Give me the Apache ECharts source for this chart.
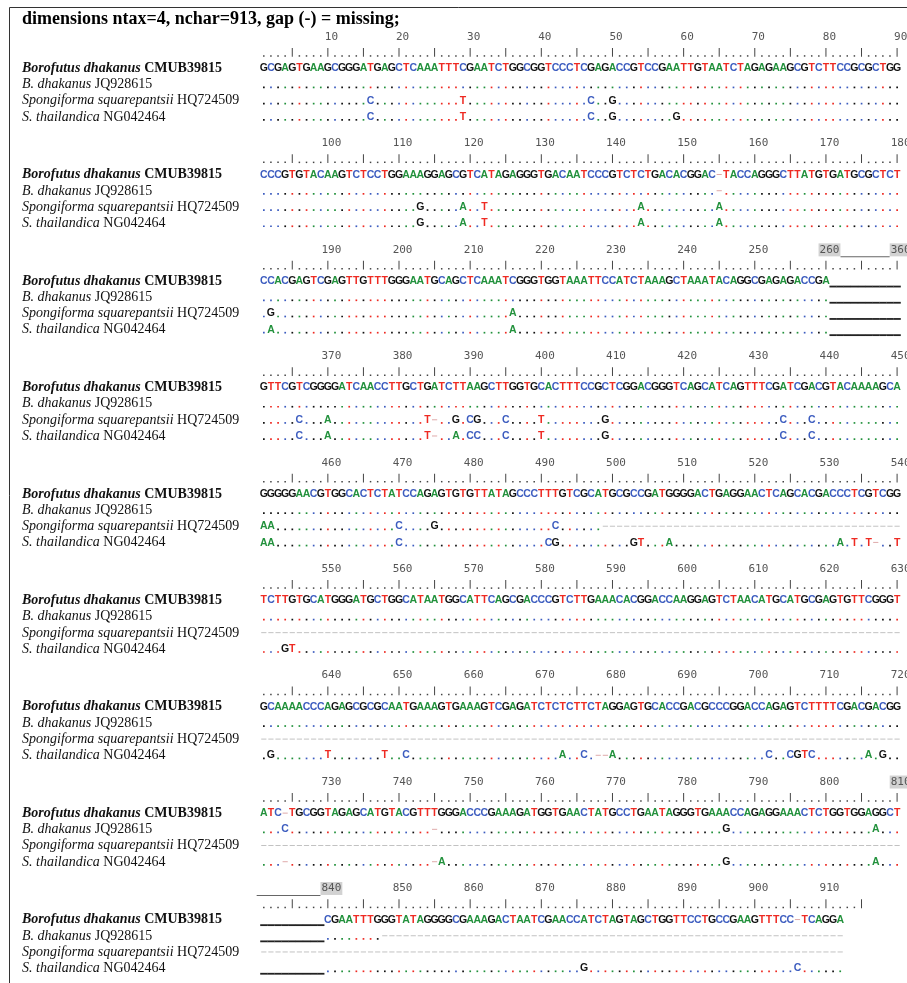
<!DOCTYPE html>
<html>
<head>
<meta charset="utf-8">
<script src="https://cdn.jsdelivr.net/npm/echarts@6/dist/echarts.min.js"></script>
</head>
<body style="margin:0; background:#fff">
<div id="container" style="width:907px; height:983px"></div>
<script>
var taxonGenus = ['Borofutus dhakanus', 'B. dhakanus', 'Spongiforma squarepantsii', 'S. thailandica'];
var taxonCode = ['CMUB39815', 'JQ928615', 'HQ724509', 'NG042464'];

// ruler labels, one every 10 columns (col 10, 20, ...)
var rulerLabels = [
  ['10', '20', '30', '40', '50', '60', '70', '80', '90'],
  ['100', '110', '120', '130', '140', '150', '160', '170', '180'],
  ['190', '200', '210', '220', '230', '240', '250', '260', '360'],
  ['370', '380', '390', '400', '410', '420', '430', '440', '450'],
  ['460', '470', '480', '490', '500', '510', '520', '530', '540'],
  ['550', '560', '570', '580', '590', '600', '610', '620', '630'],
  ['640', '650', '660', '670', '680', '690', '700', '710', '720'],
  ['730', '740', '750', '760', '770', '780', '790', '800', '810'],
  ['840', '850', '860', '870', '880', '890', '900', '910']
];
var highlighted = ['260', '360', '810', '840'];
var rulerLength = [90, 90, 90, 90, 90, 90, 90, 90, 85];
// [block, from col, to col] : skipped stretch drawn as a line in the ruler
var rulerBreaks = [[2, 80, 90], [8, 0, 10]];

// '.' same as first row, '-' gap / missing, '=' skipped stretch
var seqRef = [
  'GCGAGTGAAG CGGGATGAGC TCAAATTTCG AATCTGGCGG TCCCTCGAGA CCGTCCGAAT TGTAATCTAG AGAAGCGTCT TCCGCGCTGG',
  'CCCGTGTACA AGTCTCCTGG AAAGGAGCGT CATAGAGGGT GACAATCCCG TCTCTGACAC GGAC-TACCA GGGCTTATGT GATGCGCTCT',
  'CCACGAGTCG AGTTGTTTGG GAATGCAGCT CAAATCGGGT GGTAAATTCC ATCTAAAGCT AAATACAGGC GAGAGACCGA ==========',
  'GTTCGTCGGG GATCAACCTT GCTGATCTTA AGCTTGGTGC ACTTTCCGCT CGGACGGGTC AGCATCAGTT TCGATCGACG TACAAAAGCA',
  'GGGGGAACGT GGCACTCTAT CCAGAGTGTG TTATAGCCCT TTGTCGCATG CGCCGATGGG GACTGAGGAA CTCAGCACGA CCCTCGTCGG',
  'TCTTGTGCAT GGGATGCTGG CATAATGGCA TTCAGCGACC CGTCTTGAAA CACGGACCAA GGAGTCTAAC ATGCATGCGA GTGTTCGGGT',
  'GCAAAACCCA GAGCGCGCAA TGAAAGTGAA AGTCGAGATC TCTCTTCTAG GAGTGCACCG ACGCCCGGAC CAGAGTCTTT TCGACGACGG',
  'ATC-TGCGGT AGAGCATGTA CGTTTGGGAC CCGAAAGATG GTGAACTATG CCTGAATAGG GTGAAACCAG AGGAAACTCT GGTGGAGGCT',
  '=========C GAATTTGGGT ATAGGGGCGA AAGACTAATC GAACCATCTA GTAGCTGGTT CCTGCCGAAG TTTCC-TCAG GA'
];
var seqJQ = [
  '.......... .......... .......... .......... .......... .......... .......... .......... ..........',
  '.......... .......... .......... .......... .......... .......... ....-..... .......... ..........',
  '.......... .......... .......... .......... .......... .......... .......... .......... ==========',
  '.......... .......... .......... .......... .......... .......... .......... .......... ..........',
  '.......... .......... .......... .......... .......... .......... .......... .......... ..........',
  '.......... .......... .......... .......... .......... .......... .......... .......... ..........',
  '.......... .......... .......... .......... .......... .......... .......... .......... ..........',
  '...C...... .......... ....-..... .......... .......... .......... .....G.... .......... ......A...',
  '=========. .......--- ---------- ---------- ---------- ---------- ---------- ---------- --'
];
var seqHQ = [
  '.......... .....C.... ........T. .......... ......C..G .......... .......... .......... ..........',
  '.......... .......... ..G.....A. .T........ .......... ...A...... ....A..... .......... ..........',
  '.G........ .......... .......... .....A.... .......... .......... .......... .......... ==========',
  '.....C...A .......... ...T-..G.C G...C....T ........G. .......... .......... ...C...C.. ..........',
  'AA........ .........C ....G..... .......... .C......-- ---------- ---------- ---------- ----------',
  '---------- ---------- ---------- ---------- ---------- ---------- ---------- ---------- ----------',
  '---------- ---------- ---------- ---------- ---------- ---------- ---------- ---------- ----------',
  '---------- ---------- ---------- ---------- ---------- ---------- ---------- ---------- ----------',
  '---------- ---------- ---------- ---------- ---------- ---------- ---------- ---------- --'
];
var seqNG = [
  '.......... .....C.... ........T. .......... ......C..G ........G. .......... .......... ..........',
  '.......... .......... ..G.....A. .T........ .......... ...A...... ....A..... .......... ..........',
  '.A........ .......... .......... .....A.... .......... .......... .......... .......... ==========',
  '.....C...A .......... ...T-..A.C C...C....T ........G. .......... .......... ...C...C.. ..........',
  'AA........ .........C .......... .......... CG........ ..GT...A.. .......... .......... .A.T.T-..T',
  '...GT..... .......... .......... .......... .......... .......... .......... .......... ..........',
  '.G.......T .......T.. C......... .......... ..A..C.--A .......... .......... .C..CGTC.. .....A.G..',
  '...-...... .......... ....-A.... .......... .......... .......... .....G.... .......... ......A...',
  '=========. .......... .......... .......... .....G.... .......... .......... .....C.... ..'
];

var COLORS = { A: '#22913c', C: '#3c5cbf', G: '#111111', T: '#ee2a22' };
var LINE_Y = [0, 0.95, 1.9, 2.9, 3.9, 4.9];
var BLOCK_H = 6.57;
var rows = [seqRef, seqJQ, seqHQ, seqNG];

var data = [];
var items = [];
function add(col, y, item) {
  data.push([col, y]);
  items.push(item);
}

rulerLabels.forEach(function (labels, b) {
  var y0 = b * BLOCK_H;
  labels.forEach(function (t, i) {
    add(10 * (i + 1) + 0.5, y0, { k: 'num', t: t, hl: highlighted.indexOf(t) >= 0 });
  });
  for (var c = 1; c <= rulerLength[b]; c++) {
    add(c, y0 + LINE_Y[1], { k: c % 5 === 0 ? 'bar' : 'tick' });
  }
});
rulerBreaks.forEach(function (br) {
  add(br[1] + 0.5, br[0] * BLOCK_H, { k: 'break', to: br[2] + 0.5, fromEdge: br[1] === 0 });
});

for (var b = 0; b < 9; b++) {
  var ref = seqRef[b].replace(/ /g, '');
  for (var r = 0; r < 4; r++) {
    var s = rows[r][b].replace(/ /g, '');
    var y = b * BLOCK_H + LINE_Y[2 + r];
    add(0, y, { k: 'taxon', r: r });
    for (var i = 0; i < s.length; i++) {
      var ch = s[i];
      var col = i + 1;
      if (COLORS[ch]) {
        add(col, y, { k: 'base', t: ch, c: COLORS[ch] });
      } else if (ch === '.') {
        add(col, y, { k: 'dot', c: COLORS[ref[i]] || '#999' });
      } else if (ch === '-') {
        var run = 0, j = i;
        while (j >= 0 && s[j] === '-') { run++; j--; }
        j = i + 1;
        while (j < s.length && s[j] === '-') { run++; j++; }
        add(col, y, { k: 'dash', c: run >= 4 ? '#c2c2c2' : '#dfaaaa' });
      } else if (ch === '=') {
        add(col, y, { k: 'line' });
      }
    }
  }
}

function renderItem(params, api) {
  var it = items[params.dataIndex];
  var p = api.coord([api.value(0), api.value(1)]);
  switch (it.k) {
    case 'base':
      return { type: 'text', x: p[0], y: p[1] + 0.5, style: { text: it.t, fill: it.c, font: 'bold 10.5px "Liberation Sans", Arial, sans-serif', align: 'center', verticalAlign: 'middle' } };
    case 'dot':
      return { type: 'rect', shape: { x: p[0] - 0.8, y: p[1] + 2.6, width: 1.7, height: 1.7 }, style: { fill: it.c } };
    case 'dash':
      return { type: 'rect', shape: { x: p[0] - 2.6, y: p[1] - 0.2, width: 5.2, height: 1 }, style: { fill: it.c } };
    case 'line':
      return { type: 'rect', shape: { x: p[0] - 3.6, y: p[1] + 5, width: 7.3, height: 1.8 }, style: { fill: '#222' } };
    case 'tick':
      return { type: 'rect', shape: { x: p[0] - 0.75, y: p[1] + 2.8, width: 1.5, height: 1.5 }, style: { fill: '#444' } };
    case 'bar':
      return { type: 'rect', shape: { x: p[0] - 0.5, y: p[1] - 4.5, width: 1, height: 8.8 }, style: { fill: '#444' } };
    case 'num':
      return {
        type: 'text', x: p[0], y: p[1],
        style: {
          text: it.t, fill: '#555', font: '11px "DejaVu Sans Mono", monospace', align: 'center', verticalAlign: 'middle',
          backgroundColor: it.hl ? '#d2d2d2' : null, padding: it.hl ? [1, 1, 1, 1] : 0
        }
      };
    case 'break':
      var q = api.coord([it.to, api.value(1)]);
      var x1 = it.fromEdge ? p[0] - 3.6 : p[0] + 11;
      return { type: 'rect', shape: { x: x1, y: p[1] + 6.5, width: q[0] - 11 - x1, height: 1 }, style: { fill: '#666' } };
    case 'taxon':
      var g = taxonGenus[it.r], code = taxonCode[it.r];
      return {
        type: 'text', x: 22, y: p[1] + 0.5,
        style: {
          text: (it.r === 0 ? '{gb|' + g + '} {cb|' + code + '}' : '{g|' + g + '} {c|' + code + '}'),
          verticalAlign: 'middle',
          font: '14px "Liberation Serif", serif',
          rich: {
            gb: { fontFamily: 'Liberation Serif', fontSize: 14, fontStyle: 'italic', fontWeight: 'bold', fill: '#111' },
            cb: { fontFamily: 'Liberation Serif', fontSize: 14, fontWeight: 'bold', fill: '#111' },
            g: { fontFamily: 'Liberation Serif', fontSize: 14, fontStyle: 'italic', fill: '#111' },
            c: { fontFamily: 'Liberation Serif', fontSize: 14, fill: '#111' }
          }
        }
      };
  }
  return null;
}

var chart = echarts.init(document.getElementById('container'));
var option = {
  backgroundColor: '#fff',
  animation: false,
  title: {
    text: 'dimensions ntax=4, nchar=913, gap (-) = missing;',
    left: 17, top: 5,
    textStyle: { fontFamily: 'Liberation Serif', fontWeight: 'bold', fontSize: 18, color: '#000' }
  },
  graphic: [{
    type: 'rect', silent: true,
    shape: { x: 9.5, y: 7.5, width: 1000, height: 1000 },
    style: { fill: null, stroke: '#333', lineWidth: 1 }
  }],
  grid: { left: 260.25, right: 6.35, top: 4.6, height: 972 },
  xAxis: { type: 'value', min: 0.5, max: 90.5, show: false },
  yAxis: { type: 'value', min: -2, max: 58, inverse: true, show: false },
  series: [{
    type: 'custom',
    renderItem: renderItem,
    data: data,
    encode: { x: 0, y: 1 },
    progressive: 0,
    progressiveThreshold: 100000,
    clip: false
  }]
};
chart.setOption(option);
</script>
</body>
</html>
